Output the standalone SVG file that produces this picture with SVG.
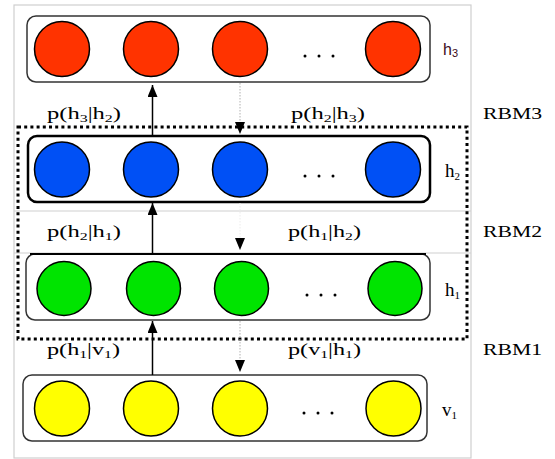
<svg xmlns="http://www.w3.org/2000/svg" width="555" height="459" viewBox="0 0 555 459">
<style>
.frame{fill:none;stroke:#cfcfcf;stroke-width:1.2}
.layer{fill:#fff;stroke:#333;stroke-width:1.5}
.thick{stroke:#000;stroke-width:2.5}
.unit{stroke:#000;stroke-width:1.5}
.red{fill:#ff3300}.blue{fill:#0050f5}.green{fill:#00e400}.yellow{fill:#ffff00}
.dot{fill:#000}
.t{font-family:"Liberation Serif","Times New Roman",serif;font-size:17px;fill:#000}
.hl{font-family:"Liberation Serif","Times New Roman",serif;font-size:19px;fill:#000}
.s{font-size:11px}
.up{stroke:#000;stroke-width:1.5;fill:none}
.down{stroke:#b0b0b0;stroke-width:1;stroke-dasharray:1.5 1.5;fill:none}
.rbm{fill:none;stroke:#000;stroke-width:3;stroke-dasharray:3 3.2}
</style>
<defs>
<marker id="ah" viewBox="0 0 12 10" refX="12" refY="5" markerWidth="12" markerHeight="10" markerUnits="userSpaceOnUse" orient="auto">
<path d="M0,0 L12,5 L0,10 Z" fill="#000"/>
</marker>
</defs>
<g id="frames">
<rect class="frame" x="14" y="5" width="457" height="453"/>
<line class="frame" x1="14" y1="211" x2="471" y2="211"/>
<line class="frame" x1="14" y1="253" x2="471" y2="253"/>
</g>
<g id="h3">
<rect class="layer" x="27" y="16" width="403" height="66" rx="9"/>
<circle class="unit red" cx="62" cy="49" r="27.5"/>
<circle class="unit red" cx="151" cy="49" r="27.5"/>
<circle class="unit red" cx="240" cy="49" r="27.5"/>
<circle class="unit red" cx="393" cy="49" r="27.5"/>
<circle class="dot" cx="305" cy="56" r="1.5"/><circle class="dot" cx="319" cy="56" r="1.5"/><circle class="dot" cx="333" cy="56" r="1.5"/>
<text x="443" y="55" style="font-family:'Liberation Sans',Arial,sans-serif;font-size:16px;fill:#3a0a20">h<tspan class="s" dy="2">3</tspan></text>
</g>
<g id="h2">
<rect class="layer thick" x="28" y="136" width="402" height="66" rx="9"/>
<circle class="unit blue" cx="62" cy="169.5" r="27.5"/>
<circle class="unit blue" cx="151" cy="169.5" r="27.5"/>
<circle class="unit blue" cx="240" cy="169.5" r="27.5"/>
<circle class="unit blue" cx="393" cy="169.5" r="27.5"/>
<circle class="dot" cx="305" cy="176" r="1.5"/><circle class="dot" cx="319" cy="176" r="1.5"/><circle class="dot" cx="333" cy="176" r="1.5"/>
<text class="hl" x="445" y="177">h<tspan class="s" dy="3">2</tspan></text>
</g>
<g id="h1">
<rect class="layer" x="26" y="254" width="404" height="66" rx="9"/>
<line x1="30" y1="254" x2="426" y2="254" stroke="#000" stroke-width="2"/>
<circle class="unit green" cx="64" cy="288.5" r="27"/>
<circle class="unit green" cx="153.5" cy="288.5" r="27"/>
<circle class="unit green" cx="241.5" cy="288.5" r="27"/>
<circle class="unit green" cx="395" cy="288.5" r="27"/>
<circle class="dot" cx="307" cy="295" r="1.5"/><circle class="dot" cx="321" cy="295" r="1.5"/><circle class="dot" cx="335" cy="295" r="1.5"/>
<text class="hl" x="445" y="296">h<tspan class="s" dy="3">1</tspan></text>
</g>
<g id="v1">
<rect class="layer" x="23" y="375" width="404" height="66" rx="9"/>
<circle class="unit yellow" cx="62" cy="408.5" r="27.5"/>
<circle class="unit yellow" cx="151" cy="408.5" r="27.5"/>
<circle class="unit yellow" cx="240" cy="408.5" r="27.5"/>
<circle class="unit yellow" cx="393.5" cy="408.5" r="27.5"/>
<circle class="dot" cx="304" cy="413" r="1.5"/><circle class="dot" cx="318" cy="413" r="1.5"/><circle class="dot" cx="332" cy="413" r="1.5"/>
<text class="hl" x="442" y="416">v<tspan class="s" dy="3">1</tspan></text>
</g>
<g id="rbm-box">
<rect class="rbm" x="18" y="127" width="449" height="212"/>
</g>
<g id="connectors">
<line class="up" x1="152.5" y1="135" x2="152.5" y2="85" marker-end="url(#ah)"/>
<line class="down" x1="240" y1="83" x2="240" y2="134" marker-end="url(#ah)"/>
<line class="up" x1="152.5" y1="254" x2="152.5" y2="203" marker-end="url(#ah)"/>
<line class="down" x1="240" y1="203" x2="240" y2="250" marker-end="url(#ah)" style="stroke:#ececec"/>
<line class="up" x1="152.5" y1="375" x2="152.5" y2="321" marker-end="url(#ah)"/>
<line class="down" x1="240" y1="321" x2="240" y2="372" marker-end="url(#ah)"/>
</g>
<g id="labels">
<text class="t" x="47" y="119" textLength="74" lengthAdjust="spacingAndGlyphs">p(h<tspan class="s" dy="3">3</tspan><tspan dy="-3">|h</tspan><tspan class="s" dy="3">2</tspan><tspan dy="-3">)</tspan></text>
<text class="t" x="291" y="119" textLength="74" lengthAdjust="spacingAndGlyphs">p(h<tspan class="s" dy="3">2</tspan><tspan dy="-3">|h</tspan><tspan class="s" dy="3">3</tspan><tspan dy="-3">)</tspan></text>
<text class="t" x="483" y="119" textLength="59" lengthAdjust="spacingAndGlyphs">RBM3</text>
<text class="t" x="47" y="237" textLength="74" lengthAdjust="spacingAndGlyphs">p(h<tspan class="s" dy="3">2</tspan><tspan dy="-3">|h</tspan><tspan class="s" dy="3">1</tspan><tspan dy="-3">)</tspan></text>
<text class="t" x="288" y="237" textLength="73" lengthAdjust="spacingAndGlyphs">p(h<tspan class="s" dy="3">1</tspan><tspan dy="-3">|h</tspan><tspan class="s" dy="3">2</tspan><tspan dy="-3">)</tspan></text>
<text class="t" x="483" y="237" textLength="59" lengthAdjust="spacingAndGlyphs">RBM2</text>
<text class="t" x="47" y="355" textLength="73" lengthAdjust="spacingAndGlyphs">p(h<tspan class="s" dy="3">1</tspan><tspan dy="-3">|v</tspan><tspan class="s" dy="3">1</tspan><tspan dy="-3">)</tspan></text>
<text class="t" x="288" y="355" textLength="73" lengthAdjust="spacingAndGlyphs">p(v<tspan class="s" dy="3">1</tspan><tspan dy="-3">|h</tspan><tspan class="s" dy="3">1</tspan><tspan dy="-3">)</tspan></text>
<text class="t" x="483" y="355" textLength="59" lengthAdjust="spacingAndGlyphs">RBM1</text>
</g>
</svg>
